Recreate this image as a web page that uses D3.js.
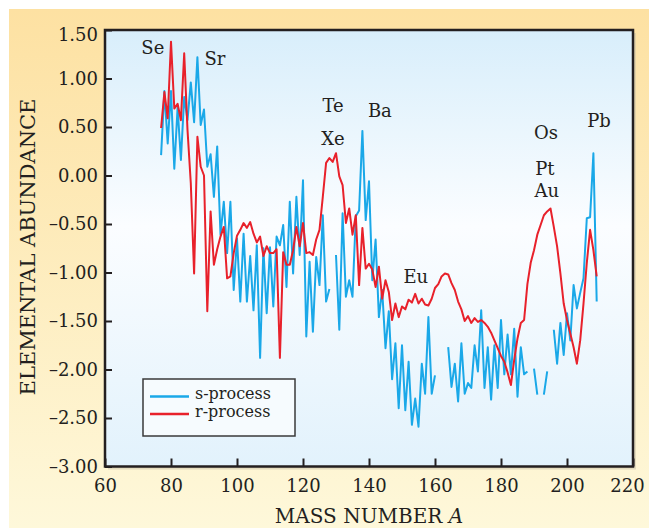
<!DOCTYPE html>
<html><head><meta charset="utf-8">
<script src="https://cdn.jsdelivr.net/npm/d3@7"></script>
<style>
body{margin:0;background:#fff}
svg{display:block}
text{font-family:"DejaVu Serif",serif;fill:#231f20}
</style>
</head><body>
<svg id="c" width="649" height="530"></svg>
<script>
const massNumbers=[77,78,79,80,81,82,83,84,85,86,87,88,89,90,91,92,93,94,95,96,97,98,99,100,
101,102,103,104,105,106,107,108,109,110,111,112,113,114,115,116,117,118,119,120,
121,122,123,124,125,126,127,128,129,130,131,132,133,134,135,136,137,138,139,140,
141,142,143,144,145,146,147,148,149,150,151,152,153,154,155,156,157,158,159,160,
161,162,163,164,165,166,167,168,169,170,171,172,173,174,175,176,177,178,179,180,
181,182,183,184,185,186,187,188,189,190,191,192,193,194,195,196,197,198,199,200,
201,202,203,204,205,206,207,208,209];
const sProcess=[0.21,0.87,0.33,0.87,0.07,0.70,0.16,0.81,0.57,0.96,0.55,1.22,0.52,0.68,0.09,0.22,-0.22,0.30,-0.61,-0.27,-0.80,-0.27,-1.18,-0.65,
-1.30,-0.60,-1.30,-0.83,-1.39,-0.72,-1.88,-0.75,-1.42,-0.74,-1.35,-0.63,-0.72,-0.51,-1.15,-0.27,-1.01,-0.22,-0.82,-0.05,
-1.66,-0.89,-1.61,-0.84,-1.13,-0.41,-1.30,-1.17,null,-0.82,-1.59,-0.39,-1.25,-1.08,-1.25,-0.42,-0.36,0.46,-0.46,-0.06,
-1.08,-0.66,-1.46,-1.18,-1.78,-1.40,-2.10,-1.73,-2.40,-1.75,-2.42,-1.92,-2.57,-2.30,-2.59,-1.94,-2.25,-1.46,-2.25,-2.06,
null,null,null,-1.77,-2.18,-1.94,-2.33,-1.73,-2.25,-2.14,-2.19,-1.75,-2.02,-1.39,-2.19,-1.77,-2.31,-1.75,-2.19,-1.49,
-2.05,-1.64,-2.05,-1.58,-2.28,-1.77,-2.05,-2.02,null,-1.99,-2.26,null,-2.26,-2.02,null,-1.59,-1.94,-1.52,-1.85,-1.42,
-1.70,-1.13,-1.37,-1.21,-1.06,-0.44,-0.43,0.23,-1.30];
const rProcess=[0.49,0.86,0.59,1.38,0.69,0.74,0.57,1.26,0.47,-0.08,-1.01,0.40,0.09,0.00,-1.40,-0.37,-0.92,-0.76,-0.63,-0.53,-1.06,-1.04,-0.80,-0.62,
-0.56,-0.49,-0.54,-0.48,-0.60,-0.69,-0.63,-0.83,-0.73,-0.80,-0.80,-0.76,-1.88,-0.79,-0.92,-0.92,-0.77,-0.53,-0.73,-0.49,
-0.80,-0.79,-0.82,-0.66,-0.56,-0.22,0.13,0.18,0.14,0.23,-0.01,-0.10,-0.49,-0.34,-0.61,-0.41,-1.13,-0.54,-0.96,-0.91,
-0.97,-1.15,-0.94,-1.27,-1.08,-1.20,-1.49,-1.32,-1.46,-1.35,-1.38,-1.28,-1.31,-1.22,-1.32,-1.27,-1.33,-1.34,-1.27,-1.16,
-1.12,-1.04,-1.01,-1.02,-1.11,-1.18,-1.30,-1.38,-1.50,-1.45,-1.52,-1.47,-1.51,-1.49,-1.52,-1.56,-1.62,-1.70,-1.78,-1.86,
-1.92,-2.03,-2.16,-1.90,-1.68,-1.52,-1.49,-1.12,-0.90,-0.77,-0.61,-0.51,-0.41,-0.37,-0.34,-0.53,-0.73,-1.01,-1.32,-1.49,
-1.63,-1.77,-1.94,-1.70,-1.32,-0.90,-0.56,-0.77,-1.04];
const xTicks=[60,80,100,120,140,160,180,200,220];
const yTicks=[-3,-2.5,-2,-1.5,-1,-0.5,0,0.5,1,1.5];
const elementNames=["Se","Sr","Te","Xe","Ba","Eu","Os","Pt","Au","Pb"];
const elementA=[74.5,93.3,129.1,129.1,143.3,154.2,193.6,193.3,193.9,209.7];
const elementV=[1.25,1.14,0.655,0.31,0.60,-1.11,0.38,0.005,-0.22,0.50];
const seriesNames=["s-process","r-process"];
const seriesColors=["#1aa8e8","#e8212b"];

const svg=d3.select("#c");
const defs=svg.append("defs");
const g1=defs.append("linearGradient").attr("id","panel").attr("x1",0).attr("y1",0).attr("x2",0).attr("y2",1);
g1.append("stop").attr("offset","0%").attr("stop-color","#fde1a2");
g1.append("stop").attr("offset","100%").attr("stop-color","#fef8da");
const g2=defs.append("linearGradient").attr("id","plotbg").attr("x1",0).attr("y1",0).attr("x2",0).attr("y2",1);
g2.append("stop").attr("offset","0%").attr("stop-color","#d8eefb");
g2.append("stop").attr("offset","45%").attr("stop-color","#fbfdff");
g2.append("stop").attr("offset","100%").attr("stop-color","#e2f2fc");

svg.append("rect").attr("x",9).attr("y",9).attr("width",640).attr("height",519).attr("fill","url(#panel)");

const L=105,R=633,T=30,B=466.5;
const x=d3.scaleLinear().domain([60,220]).range([L,R]);
const y=d3.scaleLinear().domain([-3,1.5]).range([B,T]);

svg.append("rect").attr("x",L+3).attr("y",T+3).attr("width",R-L).attr("height",B-T).attr("fill","#c9c2a8").attr("opacity",0.5);
svg.append("rect").attr("x",L).attr("y",T).attr("width",R-L).attr("height",B-T).attr("fill","url(#plotbg)");

const data=massNumbers.map((a,i)=>({a,s:sProcess[i],r:rProcess[i]}));
defs.append("clipPath").attr("id","clip").append("rect").attr("x",L).attr("y",T).attr("width",R-L).attr("height",B-T);

const lineS=d3.line().defined(d=>d.s!=null).x(d=>x(d.a)).y(d=>y(d.s));
const lineR=d3.line().defined(d=>d.r!=null).x(d=>x(d.a)).y(d=>y(d.r));
const plot=svg.append("g").attr("clip-path","url(#clip)");
plot.append("path").datum(data).attr("d",lineS).attr("fill","none").attr("stroke",seriesColors[0]).attr("stroke-width",2).attr("stroke-linejoin","round");
plot.append("path").datum(data).attr("d",lineR).attr("fill","none").attr("stroke",seriesColors[1]).attr("stroke-width",2).attr("stroke-linejoin","round");

svg.append("g").selectAll("text").data(elementNames).join("text")
  .attr("x",(d,i)=>x(elementA[i])).attr("y",(d,i)=>y(elementV[i]))
  .attr("text-anchor","middle").attr("font-size",18).text(d=>d);

const fmt=v=>(v<0?"\u2013":"")+Math.abs(v).toFixed(2);
const xa=svg.append("g").attr("transform",`translate(0,${B})`)
  .call(d3.axisBottom(x).tickValues(xTicks).tickSize(-8).tickPadding(13).tickFormat(d=>d));
const ya=svg.append("g").attr("transform",`translate(${L},0)`)
  .call(d3.axisLeft(y).tickValues(yTicks).tickSize(-7).tickPadding(7).tickFormat(fmt));
[xa,ya].forEach(a=>{a.select(".domain").remove();a.selectAll("line").attr("stroke","#231f20").attr("stroke-width",2);
  a.selectAll("text").attr("font-family","DejaVu Serif").attr("font-size",18).attr("fill","#231f20");});
ya.selectAll(".tick").filter(d=>d===1.5).select("text").attr("dy","0.6em");
xa.selectAll(".tick").filter(d=>d===220).select("text").attr("dx",-6);

svg.append("rect").attr("x",L).attr("y",T).attr("width",R-L).attr("height",B-T).attr("fill","none").attr("stroke","#231f20").attr("stroke-width",2.5);

const xt=svg.append("text").attr("x",(L+R)/2).attr("y",523).attr("text-anchor","middle").attr("font-size",20);
xt.append("tspan").text("MASS NUMBER ");
xt.append("tspan").attr("font-style","italic").text("A");
svg.append("text").attr("transform","translate(35,247) rotate(-90)").attr("text-anchor","middle").attr("font-size",21).text("ELEMENTAL ABUNDANCE");

const lg=svg.append("g");
lg.append("rect").attr("x",143).attr("y",379).attr("width",152).attr("height",57).attr("fill","#f6fbfe").attr("stroke","#3a3a3a").attr("stroke-width",1.5);
seriesNames.forEach((n,i)=>{
  const yy=396.5+i*17.5;
  lg.append("line").attr("x1",150).attr("x2",189).attr("y1",yy).attr("y2",yy).attr("stroke",seriesColors[i]).attr("stroke-width",2.5);
  lg.append("text").attr("x",195).attr("y",yy+2.5).attr("font-size",16).text(n);
});
</script>
</body></html>
